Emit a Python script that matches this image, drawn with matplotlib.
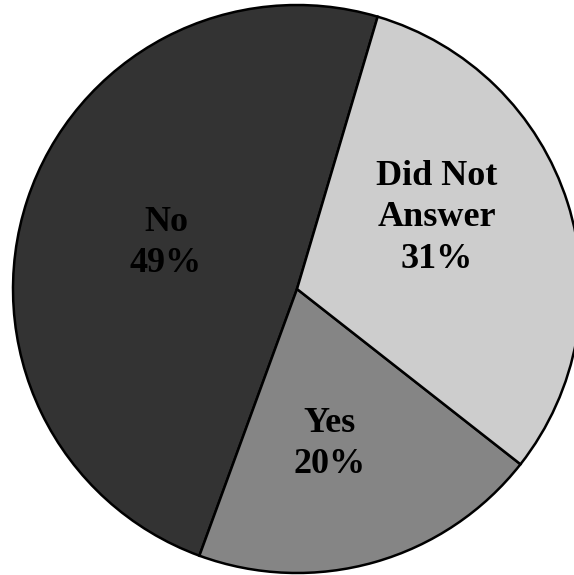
import matplotlib.pyplot as plt

# survey answers
labels = ["No", "Yes", "Did Not\nAnswer"]
shares = [49, 20, 31]
colors = ["#333333", "#858585", "#cdcdcd"]

# where each label sits (pixels, y measured from top of the image)
label_pos = [(166, 243), (330, 444), (437, 218)]

W, H = 574, 575
fig = plt.figure(figsize=(W / 100, H / 100), dpi=100)
ax = fig.add_axes([0, 0, 1, 1])

wedges, _ = ax.pie(
    shares,
    colors=colors,
    startangle=73.5,
    counterclock=True,
    center=(297, H - 289),
    radius=284,
    wedgeprops=dict(edgecolor="black", linewidth=1.8),
)

for lab, val, (x, y) in zip(labels, shares, label_pos):
    ax.text(x, H - y, f"{lab}\n{val}%", ha="center", va="center",
            fontsize=26, fontweight="bold", family="Liberation Serif",
            color="black", linespacing=1.35)

ax.set_xlim(0, W)
ax.set_ylim(0, H)
ax.set_aspect("equal")
ax.axis("off")

fig.savefig("out.png", dpi=100)
